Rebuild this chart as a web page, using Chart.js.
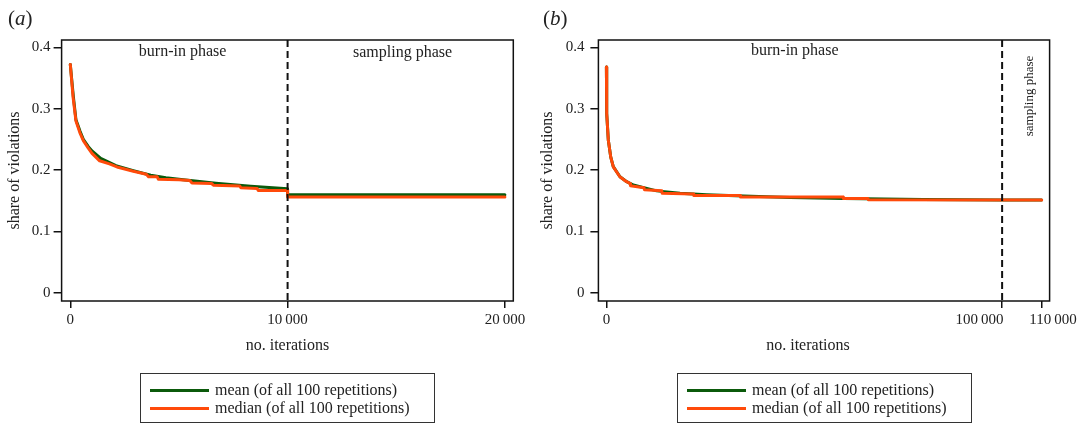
<!DOCTYPE html>
<html>
<head>
<meta charset="utf-8">
<script src="https://cdn.jsdelivr.net/npm/chart.js@4/dist/chart.umd.min.js"></script>
<style>
  body { margin: 0; background: #fff; }
  #wrap { position: relative; width: 1086px; height: 424px; overflow: hidden;
          font-family: "Liberation Serif", "Times New Roman", serif; color: #222; }
  canvas { position: absolute; top: 0; }
  .panel { position: absolute; top: 8px; font-size: 21px; line-height: 21px; }
  .legend { position: absolute; top: 373px; width: 295px; height: 50px;
            border: 1.5px solid #333; box-sizing: border-box; }
  .legend .ln { position: absolute; left: 9px; width: 59px; height: 3px; }
  .legend .tx { position: absolute; left: 74px; font-size: 16px; line-height: 18px; white-space: nowrap; }
</style>
</head>
<body>
<div id="wrap">
  <canvas id="chartA" width="543" height="424" style="left:0"></canvas>
  <canvas id="chartB" width="550" height="424" style="left:536px"></canvas>
  <div class="panel" style="left:8px">(<i>a</i>)</div>
  <div class="panel" style="left:543px">(<i>b</i>)</div>
  <div class="legend" id="legA" style="left:140px"></div>
  <div class="legend" id="legB" style="left:677px"></div>
</div>
<script>
// series names / colours
const seriesNames = ['mean (of all 100 repetitions)', 'median (of all 100 repetitions)'];
const seriesColors = ['#0b5a0b', '#ff4a0a'];

// (a) 10 000 burn-in + 10 000 sampling iterations
const iterMeanA  = [0, 140, 260, 450, 600, 830, 1000, 1400, 2100, 2900, 3700, 4400, 5200, 6700, 8300, 10000, 10000, 20000];
const shareMeanA = [0.372, 0.320, 0.282, 0.263, 0.250, 0.238, 0.231, 0.219, 0.207, 0.199, 0.1915, 0.1875, 0.184, 0.1785, 0.1735, 0.1695, 0.1595, 0.1595];
const iterMedianA  = [0, 130, 260, 440, 600, 820, 1000, 1350, 1800, 2150, 2900, 3500, 3600, 4000, 4050, 5000, 5500, 5600, 6500, 6600, 7800, 7850, 8600, 8650, 10000, 10000, 20000];
const shareMedianA = [0.372, 0.318, 0.280, 0.261, 0.248, 0.236, 0.227, 0.215, 0.210, 0.205, 0.198, 0.193, 0.189, 0.189, 0.185, 0.184, 0.183, 0.179, 0.178, 0.175, 0.174, 0.171, 0.170, 0.1665, 0.1665, 0.156, 0.156];

// (b) 100 000 burn-in + 10 000 sampling iterations
const iterMeanB  = [0, 80, 480, 1090, 1740, 3440, 5130, 6800, 10200, 12700, 18600, 25300, 34600, 46400, 60000, 80000, 100000, 110000];
const shareMeanB = [0.368, 0.292, 0.249, 0.2215, 0.2055, 0.189, 0.181, 0.1755, 0.170, 0.166, 0.1622, 0.1598, 0.1575, 0.1553, 0.1535, 0.152, 0.1513, 0.1511];
const iterMedianB  = [0, 80, 480, 1100, 1750, 3400, 5100, 6000, 6100, 9500, 9600, 14000, 14100, 22000, 22100, 33800, 33900, 59800, 59900, 66100, 66200, 110000];
const shareMedianB = [0.368, 0.292, 0.249, 0.221, 0.205, 0.189, 0.181, 0.178, 0.1745, 0.171, 0.168, 0.166, 0.162, 0.161, 0.1585, 0.1585, 0.156, 0.156, 0.1535, 0.1535, 0.1515, 0.1512];

const yTicks = [0, 0.1, 0.2, 0.3, 0.4];
const xTicksA = [0, 10000, 20000];
const xTickLabelsA = ['0', '10\u2009000', '20\u2009000'];
const xTicksB = [0, 100000, 110000];
const xTickLabelsB = ['0', '100\u2009000', '110\u2009000'];

Chart.defaults.font.family = '"Liberation Serif", "Times New Roman", serif';
Chart.defaults.color = '#222';

const phasePlugin = {
  id: 'phases',
  afterDatasetsDraw(chart, args, opts) {
    const { ctx, chartArea: a, scales: { x } } = chart;
    ctx.save();
    const bx = x.getPixelForValue(opts.boundary);
    ctx.strokeStyle = '#111';
    ctx.lineWidth = 2;
    ctx.setLineDash([7, 4]);
    ctx.beginPath();
    ctx.moveTo(bx, a.top);
    ctx.lineTo(bx, a.bottom);
    ctx.stroke();
    ctx.setLineDash([]);
    ctx.lineWidth = 1.5;
    ctx.strokeRect(a.left, a.top, a.right - a.left, a.bottom - a.top);

    ctx.fillStyle = '#222';
    ctx.textAlign = 'center';
    ctx.textBaseline = 'middle';
    opts.labels.forEach(l => {
      const px = x.getPixelForValue(l.at);
      ctx.font = l.size + 'px "Liberation Serif", serif';
      if (l.vertical) {
        ctx.save();
        ctx.translate(px, a.top + l.dy);
        ctx.rotate(-Math.PI / 2);
        ctx.fillText(l.text, 0, 0);
        ctx.restore();
      } else {
        ctx.fillText(l.text, px, a.top + l.dy);
      }
    });
    ctx.restore();
  }
};

function series(xs, ys) {
  return xs.map((v, i) => ({ x: v, y: ys[i] }));
}

function makeChart(id, o) {
  const fig = '\u2007';
  const line = { borderWidth: 3, pointRadius: 0, tension: 0, borderJoinStyle: 'round', borderCapStyle: 'round' };
  return new Chart(document.getElementById(id), {
    type: 'line',
    data: {
      datasets: [
        Object.assign({ label: seriesNames[0], data: series(o.meanX, o.meanY), borderColor: seriesColors[0], order: 2 }, line),
        Object.assign({ label: seriesNames[1], data: series(o.medX, o.medY), borderColor: seriesColors[1], order: 1 }, line)
      ]
    },
    options: {
      responsive: false,
      animation: false,
      layout: { padding: { top: 40, left: 0, right: o.padRight, bottom: 64.4 } },
      plugins: {
        legend: { display: false },
        tooltip: { enabled: false },
        phases: { boundary: o.boundary, labels: o.labels }
      },
      scales: {
        x: {
          type: 'linear',
          min: o.xMin, max: o.xMax,
          afterFit: s => { s.height = 58.6; },
          afterBuildTicks: s => { s.ticks = o.xTicks.map(v => ({ value: v })); },
          ticks: {
            font: { size: 15 }, padding: 3, maxRotation: 0, autoSkip: false,
            callback: (v, i) => {
              const n = o.nudge[i];
              return n < 0 ? o.xLabels[i] + fig.repeat(-n) : fig.repeat(n) + o.xLabels[i];
            }
          },
          grid: { drawOnChartArea: false, tickLength: 7, color: '#111', lineWidth: 1.5 },
          border: { display: false },
          title: { display: true, text: 'no. iterations' + fig.repeat(o.titleShift),
                   font: { size: 16 }, padding: { top: 0, bottom: 4 } }
        },
        y: {
          min: -0.0135, max: 0.4119,
          afterFit: s => { s.width = o.yWidth; },
          afterBuildTicks: s => { s.ticks = yTicks.map(v => ({ value: v })); },
          ticks: { font: { size: 15 }, padding: o.yPad, callback: v => v === 0 ? '0' : v.toFixed(1) },
          grid: { drawOnChartArea: false, tickLength: 8, color: '#111', lineWidth: 1.5 },
          border: { display: false },
          title: { display: true, text: 'share of violations', font: { size: 16 },
                   padding: { top: o.yTitlePad, bottom: 0 } }
        }
      }
    },
    plugins: [phasePlugin]
  });
}

makeChart('chartA', {
  meanX: iterMeanA, meanY: shareMeanA, medX: iterMedianA, medY: shareMedianA,
  xMin: -400, xMax: 20387, xTicks: xTicksA, xLabels: xTickLabelsA, nudge: [0, 0, 0],
  padRight: 29.7, yWidth: 61.6, yPad: 3, yTitlePad: 5, titleShift: 0,
  boundary: 10000,
  labels: [
    { text: 'burn-in phase', at: 5170, dy: 12, size: 16 },
    { text: 'sampling phase', at: 15290, dy: 13, size: 16 }
  ]
});

makeChart('chartB', {
  meanX: iterMeanB, meanY: shareMeanB, medX: iterMedianB, medY: shareMedianB,
  xMin: -2020, xMax: 112000, xTicks: xTicksB, xLabels: xTickLabelsB, nudge: [0, -6, 3],
  padRight: 36.4, yWidth: 62.4, yPad: 6, yTitlePad: 2.4, titleShift: 4,
  boundary: 100000,
  labels: [
    { text: 'burn-in phase', at: 47600, dy: 11, size: 16 },
    { text: 'sampling phase', at: 106850, dy: 56, size: 13, vertical: true }
  ]
});

function buildLegend(id) {
  const box = document.getElementById(id);
  seriesNames.forEach((name, i) => {
    const cy = 16 + i * 18;
    const ln = document.createElement('div');
    ln.className = 'ln';
    ln.style.top = (cy - 1.5) + 'px';
    ln.style.background = seriesColors[i];
    const tx = document.createElement('div');
    tx.className = 'tx';
    tx.style.top = (cy - 9) + 'px';
    tx.textContent = name;
    box.appendChild(ln);
    box.appendChild(tx);
  });
}
buildLegend('legA');
buildLegend('legB');
</script>
</body>
</html>
